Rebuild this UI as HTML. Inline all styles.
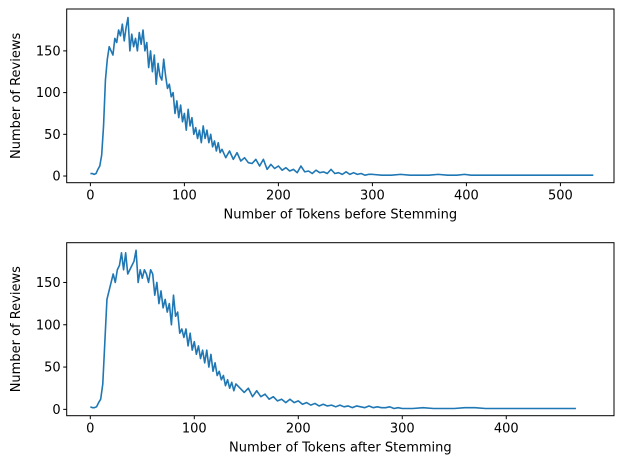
<!DOCTYPE html>
<html><head><meta charset="utf-8">
<style>
body{margin:0;background:#fff;}
svg text{font-family:"DejaVu Sans","Liberation Sans",sans-serif;font-size:13px;fill:#000;}
</style></head>
<body>
<svg id="chart" width="630" height="469" xmlns="http://www.w3.org/2000/svg"></svg>
<script>
const topX=[0,2,4,6,8,10,12,14,16,18,20,22,24,26,28,30,32,34,36,38,40,42,44,46,48,50,52,54,56,58,60,62,64,66,68,70,72,74,76,78,80,82,84,86,88,90,92,94,96,98,100,102,104,106,108,110,112,114,116,118,120,122,124,126,128,130,132,134,136,138,140,144,148,152,156,160,164,168,172,176,180,184,188,192,196,200,204,208,212,216,220,224,228,232,236,240,244,248,252,256,260,264,268,272,276,280,284,288,292,296,300,310,320,330,340,350,360,370,380,390,398,405,420,450,480,510,535];
const topY=[3,3,2,3,8,12,25,60,115,140,155,150,145,165,160,175,168,182,162,178,190,150,170,155,165,150,172,158,175,150,160,130,150,125,145,110,135,120,115,140,120,105,110,95,100,75,90,70,85,65,75,55,80,60,70,50,58,45,55,40,60,45,55,40,50,35,42,30,40,28,32,22,30,20,28,18,22,16,15,20,12,20,8,14,9,12,7,10,6,8,4,12,5,6,3,7,4,5,3,8,3,4,2,5,2,4,2,3,1,2,2,1,1,2,1,1,1,2,1,1,2,1,1,1,1,1,1];
const botX=[0,2,4,6,8,10,12,14,16,18,20,22,24,26,28,30,32,34,36,38,40,42,44,46,48,50,52,54,56,58,60,62,64,66,68,70,72,74,76,78,80,82,84,86,88,90,92,94,96,98,100,102,104,106,108,110,112,114,116,118,120,122,124,126,128,130,132,134,136,138,140,144,148,152,156,160,164,168,172,176,180,184,188,192,196,200,204,208,212,216,220,224,228,232,236,240,244,248,252,256,260,264,268,272,276,280,284,288,292,296,300,310,320,330,340,350,360,370,380,400,430,467];
const botY=[3,2,2,3,8,12,30,80,130,140,150,160,150,165,170,185,165,185,160,165,170,175,188,150,165,155,165,160,150,165,160,135,150,125,140,120,130,115,125,100,135,110,115,90,95,85,95,75,90,70,80,65,75,60,70,55,70,50,65,45,55,40,45,35,40,28,35,25,32,22,30,25,20,25,15,22,15,18,12,15,10,12,8,12,8,10,6,8,5,7,4,6,4,5,3,5,3,4,2,4,3,2,4,2,3,2,2,3,1,2,1,1,2,1,1,1,2,2,1,1,1,1];
const topXTicks=[0,100,200,300,400,500];
const botXTicks=[0,100,200,300,400];
const yTicks=[0,50,100,150];

const svg=document.getElementById('chart');
const NS='http://www.w3.org/2000/svg';
function mk(tag,attrs,parent){const e=document.createElementNS(NS,tag);for(const k in attrs)e.setAttribute(k,attrs[k]);(parent||svg).appendChild(e);return e;}

function panel(cfg){
  const g=mk('g',{});
  
  
  const L=66.7,R=614;
  const sx=v=>L+(v-cfg.xmin)/(cfg.xmax-cfg.xmin)*(R-L);
  const sy=v=>cfg.bottom-(v-cfg.ymin)/(cfg.ymax-cfg.ymin)*(cfg.bottom-cfg.top);
  let d='';
  cfg.xs.forEach((x,i)=>{d+=(i?'L':'M')+sx(x).toFixed(2)+' '+sy(cfg.ys[i]).toFixed(2);});
  const line=mk('path',{d:d,fill:'none',stroke:'#1f77b4','stroke-width':1.6,'stroke-linejoin':'round'},g);
  
  
  const frame=mk('rect',{x:L,y:cfg.top,width:R-L,height:cfg.bottom-cfg.top,fill:'none',stroke:'#000','stroke-width':1},g);
  
  
  cfg.xticks.forEach(t=>{
    const x=sx(t);
    mk('line',{x1:x,x2:x,y1:cfg.bottom,y2:cfg.bottom+3.5,stroke:'#000'},g);
    const tx=mk('text',{x:x,y:cfg.bottom+17,'text-anchor':'middle'},g);
    tx.textContent=t;
    
    
  });
  yTicks.forEach(t=>{
    const y=sy(t);
    mk('line',{x1:L-3.5,x2:L,y1:y,y2:y,stroke:'#000'},g);
    const tx=mk('text',{x:L-6,y:y+4.5,'text-anchor':'end'},g);
    tx.textContent=t;
    
    
  });
  const xl=mk('text',{x:(L+R)/2,y:cfg.bottom+36,'text-anchor':'middle'},g);
  xl.textContent=cfg.xlabel;
  
  
  const cy=(cfg.top+cfg.bottom)/2;
  const yl=mk('text',{x:20,y:cy,'text-anchor':'middle',transform:'rotate(-90 20 '+cy+')'},g);
  yl.textContent='Number of Reviews';
  
  
}
panel({name:'before-stemming-chart',xs:topX,ys:topY,xticks:topXTicks,xmin:-25.2,xmax:557,ymin:-8,ymax:200.2,top:9,bottom:182.7,xlabel:'Number of Tokens before Stemming'});
panel({name:'after-stemming-chart',xs:botX,ys:botY,xticks:botXTicks,xmin:-22.7,xmax:503.6,ymin:-7.5,ymax:197,top:242.7,bottom:415.7,xlabel:'Number of Tokens after Stemming'});
</script>
</body></html>
